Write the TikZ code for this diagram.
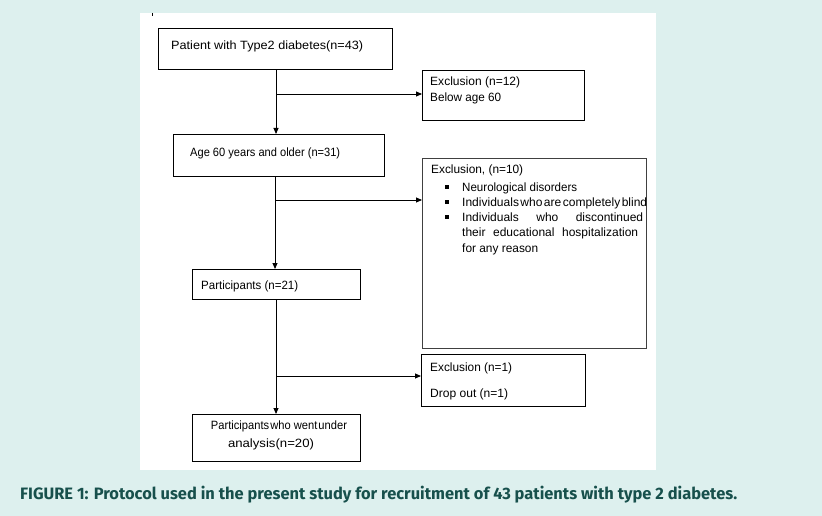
\documentclass[tikz,border=0pt]{standalone}
\usepackage{fontspec}
\setmainfont{Liberation Sans}
\newfontfamily\capfont{Fira Sans}
\usetikzlibrary{arrows.meta}
\definecolor{bgcol}{HTML}{DDF0EE}
\definecolor{capcol}{HTML}{17504C}
\tikzset{
  box/.style={draw=black, line width=0.9pt, anchor=north west, inner sep=0pt, minimum width=#1},
  txt/.style={anchor=base west, inner sep=0pt, font=\fontsize{12}{15}\selectfont},
  arr/.style={draw=black, line width=0.9pt, -{Triangle[length=6pt,width=5pt]}},
}
\newcommand{\bul}{\makebox[31pt][l]{\hspace{14pt}\rule[2.5pt]{4pt}{4pt}}}
\newcommand{\fitw}[2]{\resizebox{#1}{\height}{#2}}
\begin{document}
\begin{tikzpicture}[x=1pt,y=-1pt]
\useasboundingbox (0,0) rectangle (822,516);
\fill[bgcol] (0,0) rectangle (822,516);
\fill[white] (140,13) rectangle (656,470);
\draw[line width=0.8pt] (152,13) -- (152,16);
% boxes
\node[box=234pt, minimum height=41pt] (b1) at (158,28) {};
\node[box=162pt, minimum height=50pt] (b2) at (422,70) {};
\node[box=211pt, minimum height=42pt] (b3) at (173,134) {};
\node[box=224pt, minimum height=190pt, draw=black!75] (b4) at (422,158) {};
\node[box=168pt, minimum height=30pt] (b5) at (192,269) {};
\node[box=164pt, minimum height=52pt] (b6) at (421,354) {};
\node[box=168pt, minimum height=47pt] (b7) at (192,414) {};
% texts
\node[txt] (t1) at (171,49.5) {\fitw{192pt}{Patient with Type2 diabetes(n=43)}};
\node[txt] (t2a) at (430,86) {\fitw{90pt}{Exclusion (n=12)}};
\node[txt] (t2b) at (430,102) {\fitw{71pt}{Below age 60}};
\node[txt] (t3) at (190,157) {\fitw{150pt}{Age 60 years and older (n=31)}};
\node[txt] (t4a) at (431,174) {\fitw{92pt}{Exclusion, (n=10)}};
\node[txt] (t4b) at (431,191) {\bul\fitw{115pt}{Neurological disorders}};
\node[txt] (t4c) at (431,206) {\bul\fitw{185pt}{Individuals\hspace{0.12em}who\hspace{0.12em}are\hspace{0.12em}completely\hspace{0.12em}blind}};
\node[txt] (t4d) at (431,221) {\bul\hbox to 181pt{Individuals\hfill who\hfill discontinued}};
\node[txt] (t4e) at (462,236) {\hbox to 176pt{their\hfill educational\hfill hospitalization}};
\node[txt] (t4f) at (462,252) {\fitw{76pt}{for any reason}};
\node[txt] (t5) at (201,289) {\fitw{97pt}{Participants (n=21)}};
\node[txt] (t6a) at (430,371) {\fitw{82pt}{Exclusion (n=1)}};
\node[txt] (t6b) at (430,397) {\fitw{78pt}{Drop out (n=1)}};
\node[txt, anchor=base] (t7a) at (279,429) {\fitw{136pt}{Participants\hspace{0.1em}who went\hspace{0.1em}under}};
\node[txt, anchor=base] (t7b) at (271,447) {\fitw{86pt}{analysis(n=20)}};
% junctions
\coordinate (j1) at (276,94);
\coordinate (j2) at (275,200);
\coordinate (j3) at (276,376);
\draw[arr] (b1.south -| j1) -- (j1 |- b3.north);
\draw[arr] (j1) -- (j1 -| b2.west);
\draw[arr] (b3.south -| j2) -- (j2 |- b5.north);
\draw[arr] (j2) -- (j2 -| b4.west);
\draw[arr] (b5.south -| j3) -- (j3 |- b7.north);
\draw[arr] (j3) -- (j3 -| b6.west);
% caption
\node[anchor=base west, inner sep=0pt, text=capcol, font=\capfont\bfseries\fontsize{16.5}{18}\selectfont] (cap) at (20,499) {\fitw{717pt}{FIGURE 1: Protocol used in the present study for recruitment of 43 patients with type 2 diabetes.}};
\end{tikzpicture}
\end{document}
